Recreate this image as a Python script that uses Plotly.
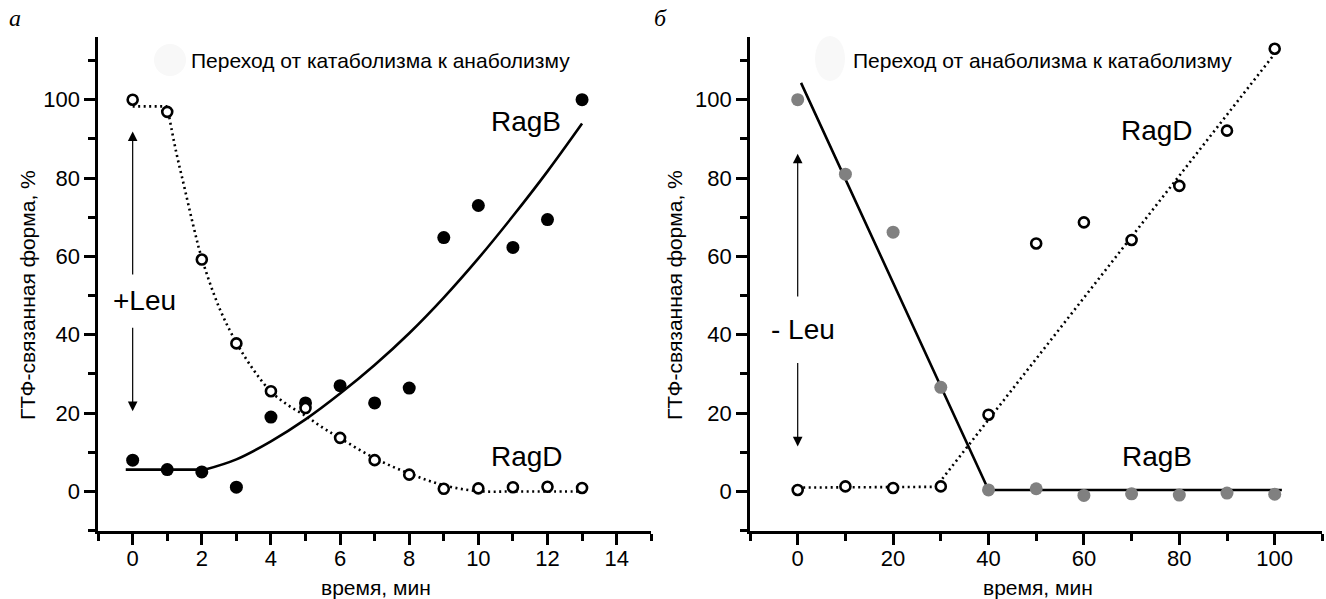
import plotly.graph_objects as go

# ---------------- data ----------------
# Panel a: transition catabolism -> anabolism (+Leu), time in minutes
t_a = [0, 1, 2, 3, 4, 5, 6, 7, 8, 9, 10, 11, 12, 13]
ragb_a = [8.0, 5.6, 5.0, 1.1, 19.0, 22.6, 27.0, 22.6, 26.4, 64.8, 73.0, 62.3, 69.4, 100.0]
ragd_a = [100.0, 96.9, 59.2, 37.8, 25.6, 21.3, 13.7, 8.0, 4.3, 0.7, 0.8, 1.1, 1.2, 0.9]

# fitted curves (panel a)
ragb_a_flat_x = [-0.2, 2.1]
ragb_a_flat_y = [5.6, 5.6]
ragb_a_fit_x = [2.1, 3, 4, 5, 6, 7, 8, 9, 10, 11, 12, 13]
ragb_a_fit_y = [5.6, 8.2, 12.8, 18.4, 25.0, 32.3, 40.4, 49.5, 59.5, 70.3, 81.7, 93.9]
ragd_a_flat_x = [0, 1]
ragd_a_flat_y = [98.3, 98.3]
ragd_a_fit_x = [1, 1.25, 1.5, 1.75, 2, 2.5, 3, 3.5, 4, 4.5, 5, 5.5, 6, 7, 8, 9, 10, 11, 12, 13]
ragd_a_fit_y = [98.3, 87.0, 77.5, 68.0, 59.5, 47.0, 38.0, 31.0, 25.5, 22.0, 19.3, 16.3, 13.6,
                8.5, 4.6, 1.6, 0.1, 0.0, 0.0, 0.0]

# Panel b: transition anabolism -> catabolism (-Leu)
t_b = [0, 10, 20, 30, 40, 50, 60, 70, 80, 90, 100]
ragb_b = [100.0, 81.0, 66.2, 26.6, 0.4, 0.7, -1.0, -0.6, -0.9, -0.4, -0.7]
ragd_b = [0.4, 1.3, 0.9, 1.3, 19.6, 63.3, 68.7, 64.2, 78.0, 92.1, 113.0]

ragb_b_fit_x = [0.7, 40.0, 101.5]
ragb_b_fit_y = [104.3, 0.4, 0.4]
ragd_b_fit_x = [0, 29.0, 100.5]
ragd_b_fit_y = [1.0, 1.2, 112.5]

x_ticks_a = [0, 2, 4, 6, 8, 10, 12, 14]
x_ticks_b = [0, 20, 40, 60, 80, 100]
y_ticks = [0, 20, 40, 60, 80, 100]

title_a = "Переход от катаболизма к анаболизму"
title_b = "Переход от анаболизма к катаболизму"
x_title = "время, мин"
y_title = "ГТФ-связанная форма, %"

# ---------------- figure ----------------
W, H = 1326, 599
FONT = "Liberation Sans, Arial, sans-serif"
LW = 2.6
DOT = "2px,3.5px"

fig = go.Figure()

def line(xa, ya, x, y, dash="solid", shape="linear"):
    fig.add_trace(go.Scatter(x=x, y=y, mode="lines", xaxis=xa, yaxis=ya,
                             line=dict(color="black", width=LW, dash=dash, shape=shape, smoothing=1.0),
                             showlegend=False, hoverinfo="skip"))

def points(xa, ya, t, solid_pts, open_pts, solid_color):
    fig.add_trace(go.Scatter(x=t, y=solid_pts, mode="markers", xaxis=xa, yaxis=ya,
                             marker=dict(symbol="circle", size=13, color=solid_color,
                                         line=dict(width=0)),
                             showlegend=False))
    fig.add_trace(go.Scatter(x=t, y=open_pts, mode="markers", xaxis=xa, yaxis=ya,
                             marker=dict(symbol="circle", size=10, color="white",
                                         line=dict(color="black", width=2.6)),
                             showlegend=False))

# panel a
line("x", "y", ragb_a_flat_x, ragb_a_flat_y)
line("x", "y", ragb_a_fit_x, ragb_a_fit_y, shape="spline")
line("x", "y", ragd_a_flat_x, ragd_a_flat_y, dash=DOT)
line("x", "y", ragd_a_fit_x, ragd_a_fit_y, dash=DOT, shape="spline")
points("x", "y", t_a, ragb_a, ragd_a, "black")
# panel b
line("x2", "y2", ragb_b_fit_x, ragb_b_fit_y)
line("x2", "y2", ragd_b_fit_x, ragd_b_fit_y, dash=DOT)
points("x2", "y2", t_b, ragb_b, ragd_b, "#808080")

ydom = [1 - 530.7 / H, 1 - 37 / H]
axis_common = dict(showline=True, linecolor="black", linewidth=LW, ticks="outside",
                   ticklen=11, tickwidth=LW, tickcolor="black", showgrid=False,
                   zeroline=False, mirror=False,
                   tickfont=dict(family=FONT, size=22, color="black"))
minor_common = dict(ticks="outside", ticklen=7, tickwidth=LW, tickcolor="black")

fig.update_layout(
    width=W, height=H,
    margin=dict(l=0, r=0, t=0, b=0),
    paper_bgcolor="white", plot_bgcolor="white",
    xaxis=dict(domain=[98.1 / W, 651.2 / W], range=[-1, 15], anchor="y",
               tickvals=x_ticks_a, ticklabelstandoff=-5,
               minor=dict(dtick=1, tick0=0, **minor_common), **axis_common),
    yaxis=dict(domain=ydom, range=[-10, 116], anchor="x",
               tickvals=y_ticks,
               minor=dict(dtick=10, tick0=-10, **minor_common), **axis_common),
    xaxis2=dict(domain=[750.0 / W, 1322.4 / W], range=[-10, 110], anchor="y2",
                tickvals=x_ticks_b, ticklabelstandoff=-5,
                minor=dict(dtick=10, tick0=0, **minor_common), **axis_common),
    yaxis2=dict(domain=ydom, range=[-10, 116], anchor="x2",
                tickvals=y_ticks,
                minor=dict(dtick=10, tick0=-10, **minor_common), **axis_common),
)

def px(x):
    return x / W

def py(y):
    return 1 - y / H

C = dict(xanchor="center", yanchor="middle", showarrow=False)
ann = []
serif = dict(family="Liberation Serif, Times New Roman, serif", size=24, color="black")
ann.append(dict(x=px(15), y=py(18), xref="paper", yref="paper", text="<i>а</i>", font=serif, **C))
ann.append(dict(x=px(660), y=py(18), xref="paper", yref="paper", text="<i>б</i>", font=serif, **C))
f21 = dict(family=FONT, size=21, color="black")
ann.append(dict(x=px(381), y=py(60), xref="paper", yref="paper", text=title_a, font=f21, **C))
ann.append(dict(x=px(1042), y=py(60), xref="paper", yref="paper", text=title_b, font=f21, **C))
for cx in (375.6, 1038):
    ann.append(dict(x=px(cx), y=py(587), xref="paper", yref="paper", text=x_title, font=f21, **C))
for cx in (27, 674):
    ann.append(dict(x=px(cx), y=py(295), xref="paper", yref="paper", text=y_title,
                    textangle=-90, font=f21, **C))
f28 = dict(family=FONT, size=28, color="black")
ann.append(dict(x=11.38, y=94.4, xref="x", yref="y", text="RagB", font=f28, **C))
ann.append(dict(x=11.41, y=8.9, xref="x", yref="y", text="RagD", font=f28, **C))
ann.append(dict(x=0.33, y=48.7, xref="x", yref="y", text="+Leu", font=f28, **C))
ann.append(dict(x=75.3, y=92.1, xref="x2", yref="y2", text="RagD", font=f28, **C))
ann.append(dict(x=75.4, y=9.0, xref="x2", yref="y2", text="RagB", font=f28, **C))
ann.append(dict(x=1.1, y=41.4, xref="x2", yref="y2", text="- Leu", font=f28, **C))

arr = dict(text="", showarrow=True, arrowhead=2, arrowsize=1.6, arrowwidth=1.2,
           arrowcolor="black", standoff=0, startstandoff=0)
ann.append(dict(x=0, y=91.9, ax=0, ay=55.0, xref="x", yref="y", axref="x", ayref="y", **arr))
ann.append(dict(x=0, y=20.5, ax=0, ay=42.2, xref="x", yref="y", axref="x", ayref="y", **arr))
ann.append(dict(x=0, y=86.2, ax=0, ay=49.4, xref="x2", yref="y2", axref="x2", ayref="y2", **arr))
ann.append(dict(x=0, y=11.5, ax=0, ay=33.2, xref="x2", yref="y2", axref="x2", ayref="y2", **arr))

fig.update_layout(annotations=ann)

fig.add_shape(type="circle", xref="paper", yref="paper",
              x0=px(154), x1=px(186), y0=py(76), y1=py(44),
              fillcolor="#f8f8f8", line=dict(width=0), layer="below")
fig.add_shape(type="circle", xref="paper", yref="paper",
              x0=px(815), x1=px(845), y0=py(81), y1=py(36),
              fillcolor="#f8f8f8", line=dict(width=0), layer="below")

fig.write_html("out.html", config={"displayModeBar": False},
               post_script="document.body.style.margin='0';document.body.style.padding='0';"
                           "document.documentElement.style.overflow='hidden';")
